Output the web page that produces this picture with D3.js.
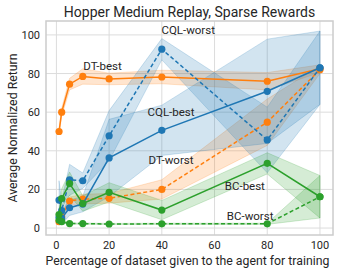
<!DOCTYPE html>
<html>
<head>
<meta charset="utf-8">
<script src="https://cdn.jsdelivr.net/npm/d3@7"></script>
<style>
  body { margin: 0; background: #fff; }
  text { font-family: Roboto, "DejaVu Sans", sans-serif; fill: #262626; }
</style>
</head>
<body>
<div id="chart"></div>
<script>
var xs = [1, 2, 5, 10, 20, 40, 80, 100];

var dtBest = [50, 60, 74.5, 78.5, 77.2, 78.2, 76, 82.5];
var dtBestStd = [1.5, 2, 3, 4, 3, 3.5, 4.5, 2];
var dtWorst = [3.3, 6, 14, 15, 15.4, 20, 54.8, 82];
var dtWorstStd = [1, 2, 2, 2.5, 2.5, 5, 12, 2];
var cqlBest = [5.5, 5, 10.5, 12.4, 36.3, 50.6, 70.8, 83];
var cqlBestStd = [3, 3, 4, 4, 20, 13, 27, 19];
var cqlWorst = [14.5, 9, 25, 24.5, 47.8, 92.6, 45.6, 83];
var cqlWorstStd = [10, 5, 8, 4, 13, 5.5, 17, 19];
var bcBest = [7, 15.3, 23, 12.7, 18.5, 9.3, 33.5, 16.2];
var bcBestStd = [2, 5, 6, 4, 5, 5, 5.5, 11];
var bcWorst = [4, 3.3, 2.3, 2.3, 2.1, 2.2, 2.2, 16.2];
var bcWorstStd = [0.5, 0.5, 0.3, 0.3, 0.3, 0.3, 0.3, 11];

var xTicks = [0, 20, 40, 60, 80, 100];
var yTicks = [0, 20, 40, 60, 80, 100];

var BLUE = '#1f77b4', ORANGE = '#ff7f0e', GREEN = '#2ca02c';

var series = [
  { name: 'DT-best', y: dtBest, sd: dtBestStd, color: ORANGE, dash: null },
  { name: 'DT-worst', y: dtWorst, sd: dtWorstStd, color: ORANGE, dash: '4,2.5' },
  { name: 'CQL-best', y: cqlBest, sd: cqlBestStd, color: BLUE, dash: null },
  { name: 'CQL-worst', y: cqlWorst, sd: cqlWorstStd, color: BLUE, dash: '4,2.5' },
  { name: 'BC-best', y: bcBest, sd: bcBestStd, color: GREEN, dash: null },
  { name: 'BC-worst', y: bcWorst, sd: bcWorstStd, color: GREEN, dash: '4,2.5' }
];

// label positions (data coords)
var labels = [
  { text: 'CQL-worst', x: 50, y: 102.5 },
  { text: 'DT-best', x: 17.5, y: 84 },
  { text: 'CQL-best', x: 43.5, y: 60 },
  { text: 'DT-worst', x: 43.5, y: 35 },
  { text: 'BC-best', x: 71.5, y: 22 },
  { text: 'BC-worst', x: 73.5, y: 6 }
];

var W = 338, H = 273;
var pLeft = 46, pRight = 333, pTop = 21, pBottom = 235;

var svg = d3.select('#chart').append('svg')
  .attr('width', W)
  .attr('height', H);

var x = d3.scaleLinear().domain([-3.95, 104.95]).range([pLeft, pRight]);
var y = d3.scaleLinear().domain([-3.6, 107.2]).range([pBottom, pTop]);

// grid
svg.append('g').selectAll('line')
  .data(xTicks).enter().append('line')
  .attr('x1', function (d) { return x(d); })
  .attr('x2', function (d) { return x(d); })
  .attr('y1', pTop).attr('y2', pBottom)
  .attr('stroke', '#dcdcdc').attr('stroke-width', 1);

svg.append('g').selectAll('line')
  .data(yTicks).enter().append('line')
  .attr('y1', function (d) { return y(d); })
  .attr('y2', function (d) { return y(d); })
  .attr('x1', pLeft).attr('x2', pRight)
  .attr('stroke', '#dcdcdc').attr('stroke-width', 1);

// bands
var area = d3.area()
  .x(function (d) { return x(d.x); })
  .y0(function (d) { return y(d.lo); })
  .y1(function (d) { return y(d.hi); });

series.forEach(function (s) {
  var pts = xs.map(function (v, i) {
    return { x: v, lo: s.y[i] - s.sd[i], hi: s.y[i] + s.sd[i] };
  });
  svg.append('path')
    .datum(pts)
    .attr('d', area)
    .attr('fill', s.color)
    .attr('fill-opacity', 0.2)
    .attr('stroke', s.color)
    .attr('stroke-opacity', 0.2)
    .attr('stroke-width', 1);
});

// lines + markers
var line = d3.line()
  .x(function (d) { return x(d.x); })
  .y(function (d) { return y(d.y); });

series.forEach(function (s) {
  var pts = xs.map(function (v, i) { return { x: v, y: s.y[i] }; });
  svg.append('path')
    .datum(pts)
    .attr('d', line)
    .attr('fill', 'none')
    .attr('stroke', s.color)
    .attr('stroke-width', 1.5)
    .attr('stroke-dasharray', s.dash);
  svg.append('g').selectAll('circle')
    .data(pts).enter().append('circle')
    .attr('cx', function (d) { return x(d.x); })
    .attr('cy', function (d) { return y(d.y); })
    .attr('r', 3.6)
    .attr('fill', s.color);
});

// frame
svg.append('rect')
  .attr('x', pLeft).attr('y', pTop)
  .attr('width', pRight - pLeft).attr('height', pBottom - pTop)
  .attr('fill', 'none')
  .attr('stroke', '#cccccc')
  .attr('stroke-width', 1.5);

// tick labels
svg.append('g').selectAll('text')
  .data(xTicks).enter().append('text')
  .attr('x', function (d) { return x(d); })
  .attr('y', 249)
  .attr('text-anchor', 'middle')
  .attr('font-size', '11px')
  .text(function (d) { return d; });

svg.append('g').selectAll('text')
  .data(yTicks).enter().append('text')
  .attr('x', 40)
  .attr('y', function (d) { return y(d) + 4; })
  .attr('text-anchor', 'end')
  .attr('font-size', '11px')
  .text(function (d) { return d; });

// annotations
svg.append('g').selectAll('text')
  .data(labels).enter().append('text')
  .attr('x', function (d) { return x(d.x); })
  .attr('y', function (d) { return y(d.y) + 4; })
  .attr('text-anchor', 'middle')
  .attr('font-size', '11.5px')
  .text(function (d) { return d.text; });

// titles
svg.append('text')
  .attr('x', (pLeft + pRight) / 2)
  .attr('y', 16.5)
  .attr('text-anchor', 'middle')
  .attr('font-size', '14px')
  .text('Hopper Medium Replay, Sparse Rewards');

svg.append('text')
  .attr('x', (pLeft + pRight) / 2 - 2)
  .attr('y', 265)
  .attr('text-anchor', 'middle')
  .attr('font-size', '12.3px')
  .text('Percentage of dataset given to the agent for training');

svg.append('text')
  .attr('transform', 'translate(17,' + (pTop + pBottom) / 2 + ') rotate(-90)')
  .attr('text-anchor', 'middle')
  .attr('font-size', '12.3px')
  .text('Average Normalized Return');
</script>
</body>
</html>
